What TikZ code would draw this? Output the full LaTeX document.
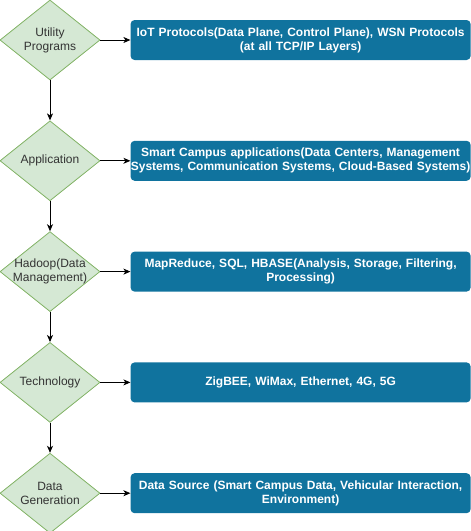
\documentclass[tikz,border=0pt]{standalone}
\usepackage{fontspec}
\setmainfont{Liberation Sans}
\usepackage{xcolor}
\usepackage{tikz}
\usetikzlibrary{positioning, shapes.geometric, arrows.meta}
\definecolor{layerfill}{HTML}{D5E8D4}
\definecolor{layeredge}{HTML}{82B366}
\definecolor{detailblue}{HTML}{10739E}

\begin{document}
\begin{tikzpicture}[
    layer/.style={diamond, draw=layeredge, fill=layerfill, line width=0.8pt,
                  aspect=1.25, minimum width=100pt, minimum height=80pt,
                  inner sep=0pt},
    layertext/.style={align=center, text=black!80,
                      font=\fontsize{12}{14}\selectfont},
    detail/.style={rectangle, rounded corners=4pt, fill=detailblue,
                   text=white, align=center, text width=340pt,
                   inner xsep=0pt, minimum height=40pt,
                   font=\fontsize{12}{14}\selectfont\bfseries},
    link/.style={-{Stealth[length=7pt, width=6pt, inset=2pt]}, line width=0.8pt},
]
    \useasboundingbox (0,0) rectangle (471pt,-531pt);

    % Layers
    \node[layer, label={[layertext]center:{Utility\\Programs}}]
        (util) at (50pt,-40pt) {};
    \node[layer, label={[layertext]center:{Application}}]
        (app) [below=40pt of util] {};
    \node[layer, label={[layertext]center:{Hadoop(Data\\Management)}}]
        (hadoop) [below=30pt of app] {};
    \node[layer, label={[layertext]center:{Technology}}]
        (tech) [below=30pt of hadoop] {};
    \node[layer, label={[layertext]center:{Data\\Generation}}]
        (datagen) [below=30pt of tech] {};

    % Details
    \node[detail] (utilbox) [right=30pt of util]
        {IoT Protocols(Data Plane, Control Plane), WSN Protocols\\(at all TCP/IP Layers)};
    \node[detail] (appbox) [right=30pt of app]
        {Smart Campus applications(Data Centers, Management\\Systems, Communication Systems, Cloud-Based Systems)};
    \node[detail] (hadoopbox) [right=30pt of hadoop]
        {MapReduce, SQL, HBASE(Analysis, Storage, Filtering,\\Processing)};
    \node[detail] (techbox) [right=30pt of tech]
        {ZigBEE, WiMax, Ethernet, 4G, 5G};
    \node[detail] (datagenbox) [right=30pt of datagen]
        {Data Source (Smart Campus Data, Vehicular Interaction,\\Environment)};

    % Edges
    \draw[link] (util) -- (app);
    \draw[link] (app) -- (hadoop);
    \draw[link] (hadoop) -- (tech);
    \draw[link] (tech) -- (datagen);
    \draw[link] (util) -- (utilbox);
    \draw[link] (app) -- (appbox);
    \draw[link] (hadoop) -- (hadoopbox);
    \draw[link] (tech) -- (techbox);
    \draw[link] (datagen) -- (datagenbox);
\end{tikzpicture}
\end{document}
